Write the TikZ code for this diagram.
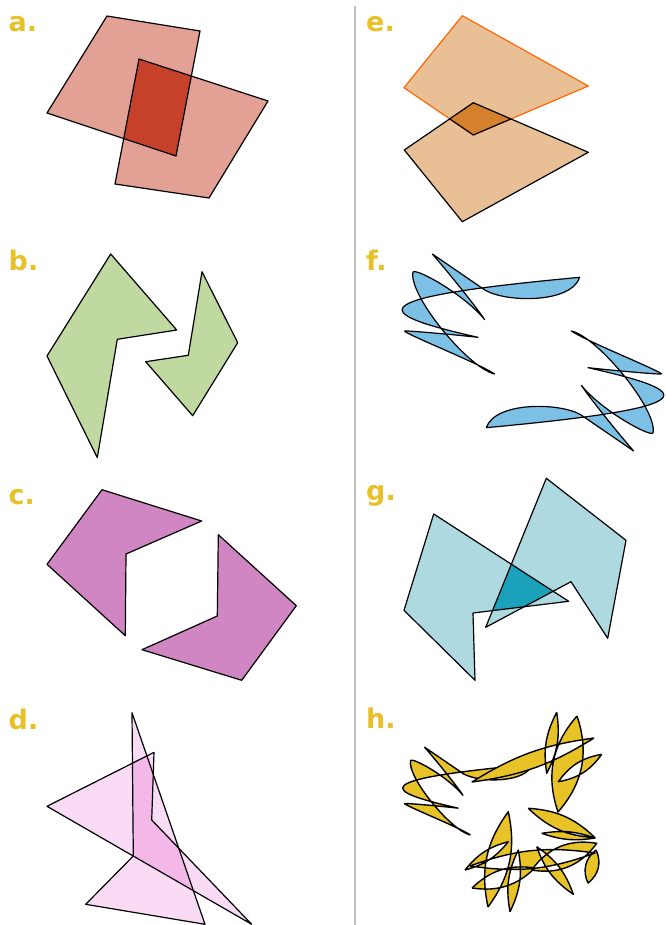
\documentclass[tikz,border=0pt]{standalone}
\usepackage{fontspec}
\newfontfamily\labfont{DejaVu Sans}
\definecolor{labc}{RGB}{232,192,40}
\definecolor{alight}{RGB}{227,160,149}
\definecolor{adark}{RGB}{197,65,42}
\definecolor{elight}{RGB}{233,192,150}
\definecolor{edark}{RGB}{212,128,45}
\definecolor{eorange}{RGB}{255,102,0}
\definecolor{bgreen}{RGB}{192,217,161}
\definecolor{cpurple}{RGB}{207,134,194}
\definecolor{dlight}{RGB}{249,219,245}
\definecolor{ddark}{RGB}{243,183,232}
\definecolor{fblue}{RGB}{124,192,230}
\definecolor{glight}{RGB}{174,217,224}
\definecolor{gdark}{RGB}{27,161,185}
\definecolor{hyellow}{RGB}{232,195,40}
\definecolor{sepc}{RGB}{190,190,190}
\newcommand\fhalfpath{(432.33,254) -- (485.33,290.33) .. controls (508,303) and (571.33,303) .. (579.67,277.33) .. controls (356.33,298) and (369.67,313) .. (478,337.33) .. controls (448,334) and (398,329.67) .. (404.67,331.33) .. controls (414.67,338) and (478,363) .. (494.67,374) .. controls (468,368) and (408,294.67) .. (413,272) .. controls (416.33,268) and (464.67,294.67) .. (484.67,319.67) .. controls (474.67,304.67) and (444.67,268) .. cycle}
\newcommand\lensp[3]{(#1) to[bend left=#3] (#2) to[bend left=#3] (#1)}
\tikzset{
  lab/.style={font=\labfont\bfseries\fontsize{27}{27}\selectfont, text=labc, anchor=base west, inner sep=0pt},
  outl/.style={draw=black, line width=1.2pt, line join=round},
  curvy/.style={draw=black, line width=1.2pt, line join=round, even odd rule},
}
\begin{document}
\begin{tikzpicture}[x=1pt,y=-1pt]
\useasboundingbox (0,0) rectangle (665,925);
% separator
\draw[sepc, line width=2.5pt] (355,6) -- (355,925);
% labels
\node[lab] (la) at (8.5,32) {a.};
\node[lab] (lb) at (8.5,270) {b.};
\node[lab] (lc) at (8.5,504) {c.};
\node[lab] (ld) at (8.5,729) {d.};
\node[lab] (le) at (366,32) {e.};
\node[lab] (lf) at (366,270) {f.};
\node[lab] (lg) at (366,500) {g.};
\node[lab] (lh) at (366,728) {h.};
% ---- a
\def\qa{(107,16) -- (200,31) -- (176,156) -- (47,113) -- cycle}
\def\qb{(139,59) -- (268,101) -- (209,198) -- (115,184) -- cycle}
\fill[alight] \qa; \fill[alight] \qb;
\begin{scope}\clip \qa; \fill[adark] \qb; \end{scope}
\draw[outl] \qa; \draw[outl] \qb;
% ---- e
\def\qe{(462.3,15.7) -- (588.3,86) -- (473.3,135) -- (404,87.7) -- cycle}
\def\qf{(473.3,102.7) -- (588.3,152.3) -- (462.3,221.7) -- (404.3,150) -- cycle}
\fill[elight] \qe; \fill[elight] \qf;
\begin{scope}\clip \qe; \fill[edark] \qf; \end{scope}
\draw[eorange, line width=1.2pt, line join=round] \qe;
\draw[outl] \qf;
\begin{scope}\clip \qf; \draw[outl] \qe; \end{scope}
% ---- b
\draw[outl, fill=bgreen] (110.7,254) -- (176.7,330) -- (117.3,339.3) -- (97.3,457.7) -- (47,356) -- cycle;
\draw[outl, fill=bgreen] (202,271.7) -- (237.7,342.7) -- (192.7,415.7) -- (145.7,361.7) -- (188.3,355.3) -- cycle;
% ---- c
\draw[outl, fill=cpurple] (102,489.7) -- (201.7,521) -- (126,554) -- (125.3,635.7) -- (47,564.3) -- cycle;
\draw[outl, fill=cpurple] (218.3,534.7) -- (296.3,605.7) -- (241.7,680.3) -- (142,649.7) -- (217.3,616) -- cycle;
% ---- d
\def\qg{(132,712.7) -- (133.3,856) -- (85.7,904.3) -- (205,924.3) -- cycle}
\def\qh{(154,752.3) -- (151.7,820) -- (251.7,924.3) -- (47,806.3) -- cycle}
\fill[dlight] \qg; \fill[dlight] \qh;
\begin{scope}\clip \qg; \fill[ddark] \qh; \end{scope}
\draw[outl] \qg; \draw[outl] \qh;
% ---- g
\def\qi{(433.7,514) -- (568.7,601.3) -- (473,613) -- (475,680.3) -- (404,610.3) -- cycle}
\def\qj{(546.3,478.3) -- (626,540.3) -- (607.7,638.3) -- (571,581.7) -- (485.7,627.3) -- cycle}
\fill[glight] \qi; \fill[glight] \qj;
\begin{scope}\clip \qi; \fill[gdark] \qj; \end{scope}
\draw[outl] \qi; \draw[outl] \qj;
% ---- f
\path[curvy, fill=fblue] \fhalfpath;
\begin{scope}[rotate around={180:(533,352.5)}]
\path[curvy, fill=fblue] \fhalfpath;
\end{scope}
% ---- h
\begin{scope}[shift={(404,786.7)}, scale=0.73, shift={(-404,-308)}]
\path[curvy, fill=hyellow, line width=1.4pt] \fhalfpath;
\end{scope}
\path[curvy, fill=hyellow, line width=1.4pt]
  \lensp{556.7,712.3}{546.7,773.3}{18}
  \lensp{577,716}{558,812}{30}
  \lensp{601.7,754.3}{558.3,781.7}{22}
  \lensp{594,738}{472,782}{12}
  \lensp{528.3,808.3}{595,837.7}{20}
  \lensp{541.7,833.3}{595,838}{14}
  \lensp{531.7,870}{596.7,843.3}{32}
  \lensp{536.7,846.7}{573.3,894.3}{18}
  \lensp{596,850}{588,883}{40}
  \lensp{470,866}{595,853}{14}
  \lensp{510,911.7}{518.3,850}{18}
  \lensp{488,907}{508.3,811.7}{24}
  \lensp{465,870}{508.3,841.7}{18}
  \lensp{472,888}{535,868}{26};
\end{tikzpicture}
\end{document}
